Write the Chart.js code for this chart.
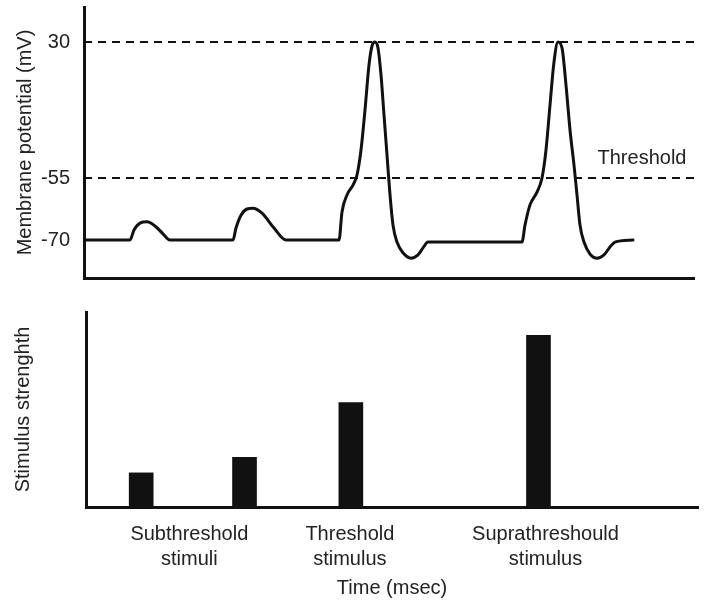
<!DOCTYPE html>
<html>
<head>
<meta charset="utf-8">
<title>Action potential vs stimulus strength</title>
<script src="https://cdn.jsdelivr.net/npm/chart.js@4.4.1/dist/chart.umd.min.js"></script>
<style>
  html, body { margin: 0; padding: 0; background: #fff; }
  canvas { display: block; }
</style>
</head>
<body>
<canvas id="potentialChart" width="709" height="290"></canvas>
<canvas id="stimulusChart" width="709" height="310"></canvas>
<script>
// ---------------------------------------------------------------------------
// Data (time in arbitrary units, no tick values are shown on the time axis)
// ---------------------------------------------------------------------------
const TIME_MAX = 610;

// membrane potential trace, mV
const traceTime = [2, 46, 50, 56, 63, 71, 79, 86, 149, 152, 157, 163, 169, 178, 190, 202,
  255, 258, 263, 269, 273, 277, 281, 285, 288, 291, 294, 297, 300, 303, 306, 309, 313, 319, 327, 334, 339, 344,
  438, 441, 446, 453, 458, 462, 466, 470, 474, 478, 482, 486, 490, 493, 496, 500, 506, 513, 520, 526, 531, 549];
const traceMv = [-70, -70, -67.6, -65.9, -65.6, -66.6, -68.5, -70, -70, -67.1, -64, -62.5, -62.3, -63.5, -67.1, -70,
  -70, -63.2, -59.1, -56.7, -53.1, -37.5, -12.5, 15.6, 27.5, 30, 26.3, 9.4, -15.6, -40.6, -59.1, -66.4, -70.5, -73.1, -74.4, -73.6, -71.9, -70.5,
  -70.5, -66.4, -61.5, -58.4, -55, -37.5, -9.4, 17.5, 30, 26.3, 3.1, -25, -46.9, -59.1, -66.4, -70.5, -73.4, -74.4, -73.6, -71.7, -70.5, -70];

const refLevelsMv = [30, -55];          // dashed reference lines
const yTickMv     = [30, -55, -70];

// stimuli
const stimTime     = [55, 158, 264, 451];
const stimStrength = [1.75, 2.55, 5.35, 8.8];

const stimGroupTime   = [103, 263, 458];
const stimGroupLabels = [["Subthreshold", "stimuli"], ["Threshold", "stimulus"], ["Suprathreshould", "stimulus"]];

// ---------------------------------------------------------------------------
// Shared styles
// ---------------------------------------------------------------------------
const FONT = "'Liberation Sans', Arial, Helvetica, sans-serif";
const INK  = "#111";
const TEXT = "#222";

// The drawing is schematic: the -70..-55 band is stretched compared to -55..30.
function mvToAxis(mv) {
  return mv >= -55 ? 100 + (mv + 55) * 1.6 : 100 + (mv + 55) * (62 / 15);
}

const thresholdLabel = {
  id: "thresholdLabel",
  afterDatasetsDraw(chart) {
    const { ctx, scales: { x, y } } = chart;
    ctx.save();
    ctx.font = "20px " + FONT;
    ctx.fillStyle = TEXT;
    ctx.textAlign = "center";
    ctx.textBaseline = "middle";
    ctx.fillText("Threshold", x.getPixelForValue(558), y.getPixelForValue(mvToAxis(-42.5)));
    ctx.restore();
  },
};

// ---------------------------------------------------------------------------
// Membrane potential (top)
// ---------------------------------------------------------------------------
new Chart(document.getElementById("potentialChart"), {
  type: "line",
  data: {
    datasets: [
      {
        data: traceTime.map((t, i) => ({ x: t, y: mvToAxis(traceMv[i]) })),
        borderColor: INK,
        borderWidth: 3,
        pointRadius: 0,
        cubicInterpolationMode: "monotone",
        borderJoinStyle: "round",
        borderCapStyle: "round",
      },
      ...refLevelsMv.map(mv => ({
        data: [{ x: 0, y: mvToAxis(mv) }, { x: TIME_MAX, y: mvToAxis(mv) }],
        borderColor: INK,
        borderWidth: 2,
        borderDash: [8, 6],
        pointRadius: 0,
      })),
    ],
  },
  options: {
    responsive: false,
    animation: false,
    layout: { padding: { left: 0, right: 15, top: 7, bottom: 0 } },
    plugins: { legend: { display: false }, tooltip: { enabled: false } },
    scales: {
      x: {
        type: "linear",
        min: 0,
        max: TIME_MAX,
        ticks: { display: false },
        grid: { display: false, drawTicks: false },
        border: { color: INK, width: 3 },
        afterFit: s => { s.height = 12; s.paddingLeft = 0; s.paddingRight = 0; },
      },
      y: {
        type: "linear",
        min: 0,
        max: 271,
        afterBuildTicks: s => { s.ticks = yTickMv.map(v => ({ value: mvToAxis(v) })); },
        ticks: {
          callback: (v, i) => String(yTickMv[i]),
          font: { family: FONT, size: 20 },
          color: TEXT,
          padding: 14,
        },
        grid: { display: false, drawTicks: false },
        border: { color: INK, width: 3 },
        title: {
          display: true,
          text: "Membrane potential (mV)",
          font: { family: FONT, size: 20 },
          color: TEXT,
          padding: { top: 13, bottom: 0 },
        },
        afterFit: s => { s.width = 84; s.paddingTop = 0; s.paddingBottom = 0; },
      },
    },
  },
  plugins: [thresholdLabel],
});

// ---------------------------------------------------------------------------
// Stimulus strength (bottom)
// ---------------------------------------------------------------------------
new Chart(document.getElementById("stimulusChart"), {
  type: "bar",
  data: {
    datasets: [{
      data: stimTime.map((t, i) => ({ x: t, y: stimStrength[i] })),
      backgroundColor: INK,
      barThickness: 24,
    }],
  },
  options: {
    responsive: false,
    animation: false,
    layout: { padding: { left: 0, right: 11, top: 22, bottom: 0 } },
    plugins: { legend: { display: false }, tooltip: { enabled: false } },
    scales: {
      x: {
        type: "linear",
        min: 0,
        max: TIME_MAX,
        offset: false,
        afterBuildTicks: s => { s.ticks = stimGroupTime.map(v => ({ value: v })); },
        ticks: {
          callback: (v, i) => stimGroupLabels[i],
          font: { family: FONT, size: 20, lineHeight: 1.25 },
          color: TEXT,
          padding: 15,
          maxRotation: 0,
          autoSkip: false,
        },
        grid: { display: false, drawTicks: false },
        border: { color: INK, width: 3 },
        title: {
          display: true,
          text: "Time (msec)",
          font: { family: FONT, size: 20 },
          color: TEXT,
          padding: { top: 0, bottom: 0 },
        },
        afterFit: s => { s.height = 93; s.paddingLeft = 0; s.paddingRight = 0; },
      },
      y: {
        min: 0,
        max: 10,
        ticks: { display: false },
        grid: { display: false, drawTicks: false },
        border: { color: INK, width: 3 },
        title: {
          display: true,
          text: "Stimulus strenghth",
          font: { family: FONT, size: 20 },
          color: TEXT,
          padding: { top: 11, bottom: 0 },
        },
        afterFit: s => { s.width = 86; s.paddingTop = 0; s.paddingBottom = 0; },
      },
    },
  },
});
</script>
</body>
</html>
